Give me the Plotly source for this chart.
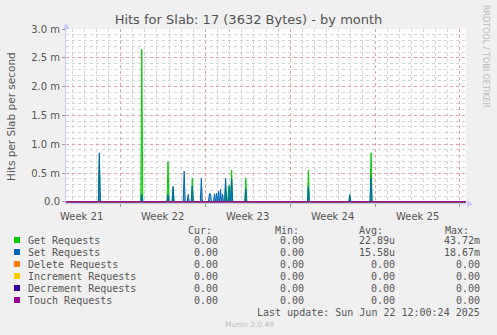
import pandas as pd
import plotly.graph_objects as go

# ---------------- data ----------------
t_start = "2025-05-20 12:00"
t_end = "2025-06-22 12:00"

spike_times = ["2025-05-23 06:00", "2025-05-26 18:00", "2025-05-28 22:00", "2025-05-29 08:00",
               "2025-05-30 06:00", "2025-05-30 14:00", "2025-05-30 22:00", "2025-05-31 16:00",
               "2025-06-01 08:00", "2025-06-01 10:00", "2025-06-01 18:00", "2025-06-01 22:00",
               "2025-06-02 02:00", "2025-06-02 06:00", "2025-06-02 10:00", "2025-06-02 16:00",
               "2025-06-02 22:00", "2025-06-03 00:00", "2025-06-03 04:00", "2025-06-04 08:00",
               "2025-06-09 12:00", "2025-06-12 22:00", "2025-06-14 16:00"]
get_vals = [0.75, 2.65, 0.70, 0.22, 0.0, 0.0, 0.41, 0.0,
            0.0, 0.0, 0.0, 0.0, 0.0, 0.0, 0.0, 0.30,
            0.28, 0.0, 0.55, 0.41, 0.55, 0.09, 0.85]          # milli-hits/s
set_vals = [0.85, 0.13, 0.13, 0.27, 0.53, 0.13, 0.27, 0.41,
            0.14, 0.14, 0.14, 0.15, 0.18, 0.22, 0.13, 0.41,
            0.10, 0.28, 0.40, 0.22, 0.27, 0.13, 0.41]          # milli-hits/s

series_names = ["Get Requests", "Set Requests", "Delete Requests",
                "Increment Requests", "Decrement Requests", "Touch Requests"]
series_colors = ["#00CC00", "#0066B3", "#FF8000", "#FFCC00", "#330099", "#990099"]
cur_col = ["0.00", "0.00", "0.00", "0.00", "0.00", "0.00"]
min_col = ["0.00", "0.00", "0.00", "0.00", "0.00", "0.00"]
avg_col = ["22.89u", "15.58u", "0.00", "0.00", "0.00", "0.00"]
max_col = ["43.72m", "18.67m", "0.00", "0.00", "0.00", "0.00"]

week_labels = ["Week 21", "Week 22", "Week 23", "Week 24", "Week 25"]
week_mids = ["2025-05-21 18:00", "2025-05-28 12:00", "2025-06-04 12:00",
             "2025-06-11 12:00", "2025-06-18 12:00"]

ytick_vals = [0.0, 0.5, 1.0, 1.5, 2.0, 2.5, 3.0]
ytick_text = ["0.0", "0.5 m", "1.0 m", "1.5 m", "2.0 m", "2.5 m", "3.0 m"]

# ---------------- build series ----------------
slots = pd.date_range(t_start, t_end, freq="2h")
get_s = pd.Series(0.0, index=slots)
set_s = pd.Series(0.0, index=slots)
for t, g, s in zip(pd.to_datetime(spike_times), get_vals, set_vals):
    get_s[t] = g * 1e-3
    set_s[t] = s * 1e-3
zero_s = pd.Series(0.0, index=slots)

W, H = 497, 335
L, R, T, B = 66, 466, 29, 203


def px(x):
    return (x - L) / (R - L)


def py(y):
    return (B - y) / (B - T)


fig = go.Figure()
fills = ["rgba(0,204,0,0.55)", "rgba(0,102,179,0.6)"]
for name, color, s, fc in zip(series_names[:2], series_colors[:2], [get_s, set_s], fills):
    fig.add_trace(go.Scatter(x=s.index, y=s.values, mode="lines", name=name,
                             line=dict(color=color, width=1), fill="tozeroy",
                             fillcolor=fc, showlegend=False))
for name, color in zip(series_names[2:], series_colors[2:]):
    fig.add_trace(go.Scatter(x=zero_s.index, y=zero_s.values, mode="lines", name=name,
                             line=dict(color=color, width=1), showlegend=False))

grey = "#555555"
fig.update_layout(
    width=W, height=H,
    margin=dict(l=L, r=W - R, t=T, b=H - B, pad=0),
    paper_bgcolor="#F0F0F0", plot_bgcolor="#FFFFFF",
    font=dict(family="DejaVu Sans", size=10, color=grey),
    title=dict(text="Hits for Slab: 17 (3632 Bytes) - by month", x=0.5, xref="container",
               y=1 - 19 / H, yref="container", yanchor="middle", xanchor="center",
               font=dict(family="DejaVu Sans", size=13, color=grey)),
    xaxis=dict(type="date", range=[t_start, t_end], tickmode="linear",
               tick0="2025-05-18", dtick=7 * 86400000, showticklabels=False,
               ticks="outside", ticklen=3, tickcolor="#999999",
               showgrid=True, gridcolor="#E8A0A0", griddash="dot", gridwidth=1,
               minor=dict(tick0="2025-05-18", dtick=86400000, showgrid=True,
                          gridcolor="#D4D4D4", griddash="dot", gridwidth=1),
               showline=True, linecolor="#C8C8FF", linewidth=1, zeroline=False),
    yaxis=dict(range=[-0.00002, 0.003], tickmode="array", tickvals=[v * 1e-3 for v in ytick_vals],
               ticktext=ytick_text, ticks="outside", ticklen=3, tickcolor="#999999",
               showgrid=True, gridcolor="#E8A0A0", griddash="dot", gridwidth=1,
               minor=dict(tickmode="linear", tick0=0, dtick=0.0001, showgrid=True,
                          gridcolor="#D4D4D4", griddash="dot", gridwidth=1),
               showline=True, linecolor="#C8C8FF", linewidth=1, zeroline=False,
               tickfont=dict(size=10, color=grey)),
)

ann = []
for lab, xm in zip(week_labels, week_mids):
    ann.append(dict(x=xm, xref="x", y=py(216), yref="paper", text=lab, showarrow=False,
                    font=dict(size=10, color=grey), xanchor="center", yanchor="middle"))
# axis title
ann.append(dict(x=px(11), y=py(116), xref="paper", yref="paper", text="Hits per Slab per second",
                textangle=-90, showarrow=False, xanchor="center", yanchor="middle",
                font=dict(size=10.5, color=grey)))
# watermark
ann.append(dict(x=px(486), y=py(56), xref="paper", yref="paper", text="RRDTOOL / TOBI OETIKER",
                textangle=90, showarrow=False, xanchor="center", yanchor="middle",
                font=dict(size=8, color="#BBBBBB")))
# axis arrows
ann.append(dict(x=px(66), y=py(25), xref="paper", yref="paper", text="▲", showarrow=False,
                xanchor="center", yanchor="middle", font=dict(size=8, color="#C8C8FF")))
ann.append(dict(x=px(470), y=py(203), xref="paper", yref="paper", text="▶", showarrow=False,
                xanchor="center", yanchor="middle", font=dict(size=8, color="#C8C8FF")))

mono = "DejaVu Sans Mono"
hdr_y = 230
for txt, xr in zip(["Cur:", "Min:", "Avg:", "Max:"], [214, 301, 385, 471]):
    ann.append(dict(x=px(xr), y=py(hdr_y), xref="paper", yref="paper", text=txt, showarrow=False,
                    xanchor="right", yanchor="middle", font=dict(family=mono, size=10, color=grey)))
shapes = []
for i, (name, color) in enumerate(zip(series_names, series_colors)):
    yy = 240 + 12 * i
    shapes.append(dict(type="rect", xref="paper", yref="paper", x0=px(14), x1=px(20),
                       y0=py(yy + 3), y1=py(yy - 3), fillcolor=color, line=dict(width=0)))
    ann.append(dict(x=px(26), y=py(yy), xref="paper", yref="paper", text=name, showarrow=False,
                    xanchor="left", yanchor="middle", font=dict(family=mono, size=10, color=grey)))
    for col, xr in zip([cur_col, min_col, avg_col, max_col], [220, 306, 397, 482]):
        ann.append(dict(x=px(xr), y=py(yy), xref="paper", yref="paper", text=col[i],
                        showarrow=False, xanchor="right", yanchor="middle",
                        font=dict(family=mono, size=10, color=grey)))
ann.append(dict(x=px(482), y=py(312), xref="paper", yref="paper",
                text="Last update: Sun Jun 22 12:00:24 2025", showarrow=False,
                xanchor="right", yanchor="middle", font=dict(family=mono, size=10, color=grey)))
ann.append(dict(x=px(249), y=py(324), xref="paper", yref="paper", text="Munin 2.0.49",
                showarrow=False, xanchor="center", yanchor="middle",
                font=dict(size=7.5, color="#BBBBBB")))

fig.update_layout(annotations=ann, shapes=shapes)
fig.write_html("out.html")
